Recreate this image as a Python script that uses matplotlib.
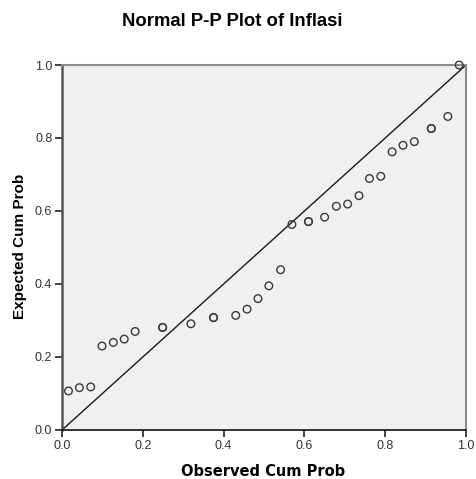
import matplotlib
matplotlib.use("Agg")
import matplotlib.pyplot as plt

# Observed vs expected cumulative probabilities
observed = [0.016, 0.043, 0.071, 0.099, 0.127, 0.154, 0.181, 0.249, 0.249,
            0.319, 0.375, 0.375, 0.430, 0.458, 0.485, 0.512, 0.541, 0.569,
            0.610, 0.610, 0.650, 0.679, 0.707, 0.735, 0.761, 0.789, 0.817,
            0.844, 0.872, 0.914, 0.914, 0.955, 0.983]
expected = [0.107, 0.116, 0.118, 0.230, 0.240, 0.249, 0.270, 0.281, 0.281,
            0.291, 0.308, 0.308, 0.314, 0.331, 0.360, 0.395, 0.439, 0.563,
            0.571, 0.571, 0.583, 0.613, 0.619, 0.642, 0.689, 0.695, 0.762,
            0.780, 0.790, 0.826, 0.826, 0.859, 1.000]
ticks = [0.0, 0.2, 0.4, 0.6, 0.8, 1.0]

plt.rcParams["font.family"] = ["Liberation Sans", "DejaVu Sans"]

fig = plt.figure(figsize=(4.77, 4.79), dpi=100)
ax = fig.add_axes([0.130, 0.1023, 0.847, 0.762])
ax.set_facecolor("#f0f0f0")

ax.plot([0, 1], [0, 1], color="#1a1a1a", linewidth=1.0, zorder=2)
ax.scatter(observed, expected, s=30, facecolors="none", edgecolors="#3a3a3a",
           linewidths=1.0, zorder=3, clip_on=False)

ax.set_xlim(0, 1)
ax.set_ylim(0, 1)
ax.set_xticks(ticks)
ax.set_yticks(ticks)
ax.set_xticklabels([f"{t:.1f}" for t in ticks])
ax.set_yticklabels([f"{t:.1f}" for t in ticks])
ax.tick_params(direction="out", length=5, width=1.2, colors="#222222",
               labelsize=9, labelcolor="#333333", pad=2)

for side in ("top", "right"):
    ax.spines[side].set_color("#8c8c8c")
    ax.spines[side].set_linewidth(1.5)
ax.spines["left"].set_color("#555555")
ax.spines["left"].set_linewidth(1.8)
ax.spines["bottom"].set_color("#111111")
ax.spines["bottom"].set_linewidth(1.2)

fig.text(263 / 477, 1 - 471 / 479, "Observed Cum Prob", fontsize=10.5,
         fontweight="bold", family="DejaVu Sans", ha="center", va="center")
fig.text(20 / 477, 1 - 246 / 479, "Expected Cum Prob", fontsize=11,
         fontweight="bold", rotation=90, ha="center", va="center")
fig.text(232 / 477, 1 - 22 / 479, "Normal P-P Plot of Inflasi", fontsize=13.3,
         fontweight="bold", ha="center", va="center")

fig.savefig("out.png", dpi=100)
